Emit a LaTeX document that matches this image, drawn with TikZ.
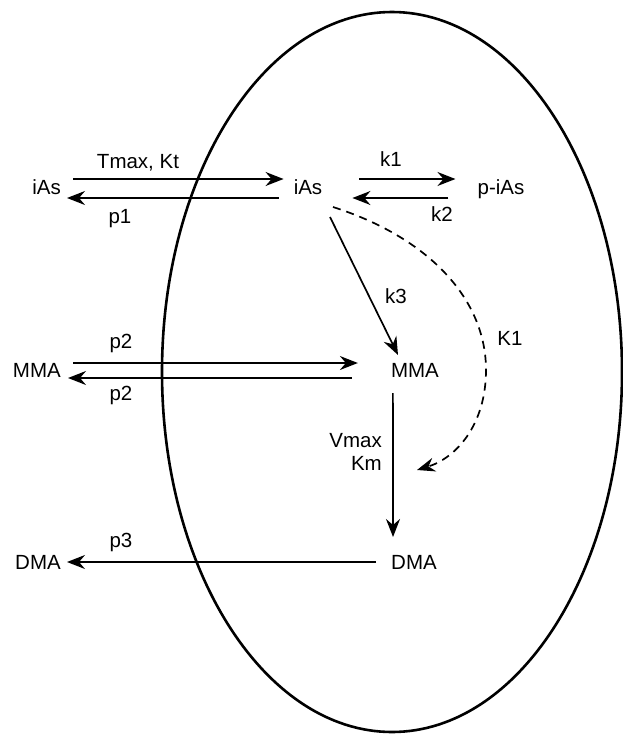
\documentclass[tikz,border=0pt]{standalone}
\usepackage{fontspec}
\setmainfont{Liberation Sans}
\usetikzlibrary{arrows.meta}
\begin{document}
\begin{tikzpicture}[x=1pt,y=-1pt,
  txt/.style={inner sep=0pt, text height=14.6pt, text depth=0pt,
    font=\fontsize{20.5}{23}\selectfont},
  arr/.style={line width=1.7pt,
    -{Stealth[length=18pt,width=14pt,inset=6pt]}},
  dasharr/.style={arr, dash pattern=on 8pt off 6pt},
  cell/.style={line width=2.6pt}]
\useasboundingbox (0,0) rectangle (623,734);

% the cell
\draw[cell] (392,372) ellipse [x radius=230, y radius=360];

% species outside the cell
\node[txt, anchor=east] (iasL) at (61,187) {iAs};
\node[txt, anchor=east] (mmaL) at (61,370) {MMA};
\node[txt, anchor=east] (dmaL) at (61,562) {DMA};

% species inside the cell
\node[txt] (iasR) at (308,187) {iAs};
\node[txt] (pias) at (501,187) {p-iAs};
\node[txt] (mmaR) at (415,370) {MMA};
\node[txt] (dmaR) at (414,562) {DMA};

% rate labels
\node[txt] (lTmax) at (138,161) {Tmax, Kt};
\node[txt] (lp1) at (120,216) {p1};
\node[txt] (lk1) at (391,159) {k1};
\node[txt] (lk2) at (442,214) {k2};
\node[txt] (lk3) at (396,296) {k3};
\node[txt] (lK1) at (510,338) {K1};
\node[txt] (lp2a) at (121,341) {p2};
\node[txt] (lp2b) at (121,393) {p2};
\node[txt, anchor=east] (lVmax) at (382,440) {Vmax};
\node[txt, anchor=east] (lKm) at (382,463) {Km};
\node[txt] (lp3) at (121,540) {p3};

% uptake and efflux of iAs
\draw[arr] ([shift={(12,-8)}]iasL.east) -- ([shift={(-10,-8)}]iasR.west);
\draw[arr] ([shift={(-15,11)}]iasR.west) -- ([shift={(6,11)}]iasL.east);

% binding of iAs
\draw[arr] ([shift={(37,-8)}]iasR.east) -- ([shift={(-22,-8)}]pias.west);
\draw[arr] ([shift={(-29,11)}]pias.west) -- ([shift={(30,11)}]iasR.east);

% MMA exchange
\draw[arr] ([shift={(12,-7)}]mmaL.east) -- ([shift={(-33,-7)}]mmaR.west);
\draw[arr] ([shift={(-39,8)}]mmaR.west) -- ([shift={(7,8)}]mmaL.east);

% DMA efflux
\draw[arr] ([shift={(-15,0)}]dmaR.west) -- ([shift={(6,0)}]dmaL.east);

% methylation steps
\draw[arr] ([shift={(22,30)}]iasR.center) -- ([shift={(-17,-15)}]mmaR.center);
\draw[arr] ([shift={(2,23)}]mmaR.west) -- ([shift={(2,-25)}]dmaR.west);

% inhibition by iAs
\coordinate (inhib) at (417,470);
\draw[dasharr] ([shift={(25,20)}]iasR.center)
  .. controls (430,238) and (486,300) .. (486,370)
  .. controls (486,425) and (456,458) .. (inhib);
\end{tikzpicture}
\end{document}
